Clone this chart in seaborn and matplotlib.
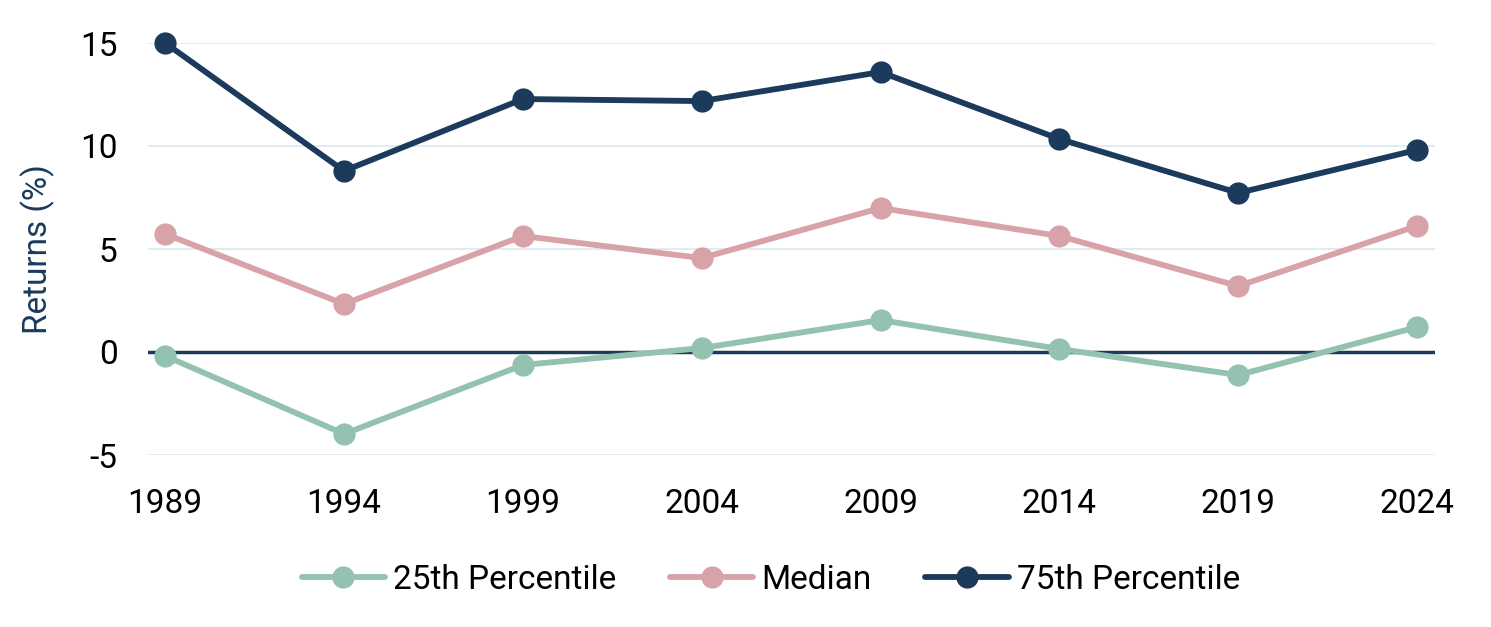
import matplotlib
matplotlib.use("Agg")
import matplotlib.pyplot as plt
import seaborn as sns
import pandas as pd

years = [1989, 1994, 1999, 2004, 2009, 2014, 2019, 2024]
p25 = [-0.19, -3.98, -0.63, 0.19, 1.55, 0.15, -1.12, 1.21]
median = [5.73, 2.33, 5.63, 4.56, 6.99, 5.63, 3.20, 6.12]
p75 = [15.0, 8.79, 12.28, 12.18, 13.59, 10.34, 7.72, 9.81]
series_names = ["25th Percentile", "Median", "75th Percentile"]
colors = ["#93c2b0", "#d8a3a8", "#1b3a5c"]
yticks = [-5, 0, 5, 10, 15]

sns.set_theme(style="white")
plt.rcParams['font.family'] = ['Roboto', 'DejaVu Sans']
plt.rcParams['axes.unicode_minus'] = False

df = pd.DataFrame({
    "Year": years * 3,
    "Value": p25 + median + p75,
    "Series": [series_names[0]] * 8 + [series_names[1]] * 8 + [series_names[2]] * 8,
})

fig = plt.figure(figsize=(14.91, 6.27), dpi=100)
ax = fig.add_axes([148/1491, 1 - 455/627, (1435-148)/1491, (455-43)/627])

for y in yticks:
    if y == 0:
        ax.axhline(0, color="#1b3a5c", lw=2.5, zorder=1)
    else:
        ax.axhline(y, color="#dce8f0", lw=1.2, zorder=0)

sns.lineplot(data=df, x="Year", y="Value", hue="Series", hue_order=series_names,
             palette=colors, marker="o", markersize=16, markeredgewidth=0,
             linewidth=4.2, ax=ax, legend=True, clip_on=False, zorder=3)

ax.set_xlim(1988.52, 2024.5)
ax.set_ylim(-5, 15)
ax.set_xticks(years)
ax.set_xticklabels([str(y) for y in years])
ax.set_yticks(yticks)
ax.tick_params(axis='both', labelsize=24, colors="black", length=0)
ax.tick_params(axis='x', pad=24)
ax.tick_params(axis='y', pad=22)
for s in ax.spines.values():
    s.set_visible(False)
ax.set_xlabel("")
ax.set_ylabel("Returns (%)", fontsize=24, color="#1b3a5c", labelpad=18)

h, l = ax.get_legend_handles_labels()
leg = ax.legend(h, l, loc="center",
                bbox_to_anchor=((771 - 148) / (1435 - 148), (455 - 580) / (455 - 43)),
                ncol=3, frameon=False, fontsize=24, handlelength=2.5,
                columnspacing=1.6, handletextpad=0.25)
for t in leg.get_texts():
    t.set_color("black")

fig.savefig("out.png", dpi=100)
